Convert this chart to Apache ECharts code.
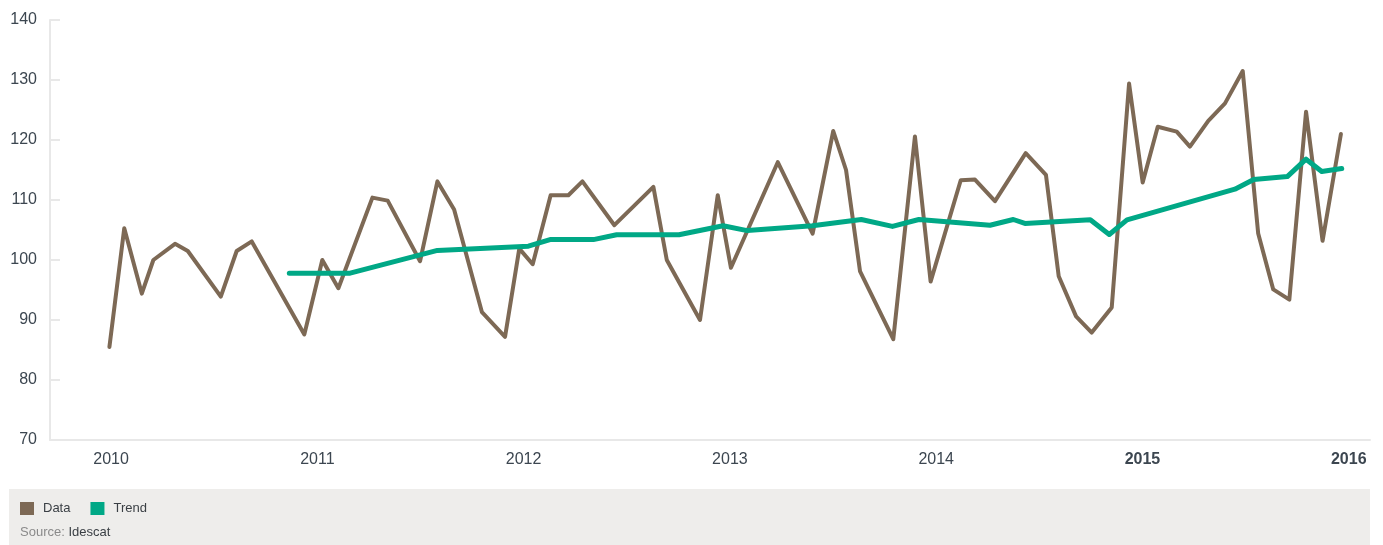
<!DOCTYPE html>
<html>
<head>
<meta charset="utf-8">
<script src="https://cdn.jsdelivr.net/npm/echarts@6/dist/echarts.min.js"></script>
<style>
html, body { margin: 0; padding: 0; background: #fff; }
#chart { width: 1383px; height: 545px; }
</style>
</head>
<body>
<div id="chart"></div>
<script>
// data series: x is the date as a decimal year
const dataYears = [2009.992, 2010.064, 2010.149, 2010.205, 2010.310, 2010.372, 2010.532, 2010.609, 2010.682, 2010.937,
	2011.024, 2011.102, 2011.267, 2011.341, 2011.498, 2011.582, 2011.663, 2011.798, 2011.910, 2011.979,
	2012.044, 2012.131, 2012.217, 2012.285, 2012.440, 2012.629, 2012.694, 2012.855, 2012.941,
	2013.005, 2013.232, 2013.401, 2013.501, 2013.563, 2013.631, 2013.792, 2013.897, 2013.973,
	2014.119, 2014.188, 2014.285, 2014.434, 2014.532, 2014.594, 2014.678, 2014.754, 2014.851, 2014.935,
	2015.001, 2015.074, 2015.166, 2015.230, 2015.319, 2015.400, 2015.486, 2015.561, 2015.634, 2015.712,
	2015.793, 2015.873, 2015.962];
const dataValues = [85.5, 105.3, 94.4, 100.0, 102.7, 101.5, 93.9, 101.5, 103.1, 87.6,
	100.0, 95.3, 110.4, 109.9, 99.8, 113.1, 108.4, 91.3, 87.2, 101.9,
	99.3, 110.8, 110.8, 113.1, 105.8, 112.2, 100.0, 90.0, 110.8,
	98.7, 116.3, 104.4, 121.5, 115.0, 98.1, 86.8, 120.6, 96.4,
	113.3, 113.4, 109.8, 117.8, 114.2, 97.3, 90.6, 87.9, 92.1, 129.4,
	112.9, 122.2, 121.4, 118.9, 123.2, 126.1, 131.5, 104.4, 95.1, 93.4,
	124.7, 103.2, 121.0];

// trend series
const trendYears = [2010.864, 2011.159, 2011.582, 2012.023, 2012.128, 2012.338, 2012.451, 2012.753, 2012.967,
	2013.084, 2013.400, 2013.637, 2013.788, 2013.916, 2014.261, 2014.374, 2014.430, 2014.747, 2014.839,
	2014.925, 2015.448, 2015.539, 2015.702, 2015.793, 2015.869, 2015.966];
const trendValues = [97.8, 97.8, 101.6, 102.3, 103.4, 103.4, 104.2, 104.2, 105.7,
	104.9, 105.7, 106.75, 105.6, 106.75, 105.8, 106.75, 106.1, 106.7, 104.25,
	106.7, 111.8, 113.4, 113.9, 116.8, 114.75, 115.25];

const yearTicks = [2010, 2011, 2012, 2013, 2014, 2015, 2016];
const boldYears = [2015, 2016];
const seriesNames = ['Data', 'Trend'];
const sourceLabel = 'Source: ';
const sourceName = 'Idescat';

const font = '"Liberation Sans", Arial, Helvetica, sans-serif';

function zip(xs, ys) {
	return xs.map(function (x, i) { return [x, ys[i]]; });
}

let myChart = echarts.init(document.getElementById('chart'));
myChart.setOption({
	animation: false,
	textStyle: { fontFamily: font },
	grid: { left: 50, right: 13, top: 20, bottom: 105, containLabel: false },
	graphic: [
		{
			type: 'rect', silent: true, z: -10,
			shape: { x: 9, y: 489, width: 1361, height: 56 },
			style: { fill: '#eeedeb' }
		},
		{
			type: 'text', left: 20, top: 526,
			style: {
				text: '{a|' + sourceLabel + '}{b|' + sourceName + '}',
				rich: {
					a: { fontSize: 13, fill: '#8a8a8a', fontFamily: font },
					b: { fontSize: 13, fill: '#3a3f44', fontFamily: font }
				}
			}
		}
	],
	legend: {
		left: 20, top: 502, padding: 0,
		icon: 'rect', itemWidth: 14, itemHeight: 13, itemGap: 20,
		data: seriesNames,
		textStyle: { fontSize: 13, color: '#3a3f44', fontFamily: font, padding: [0, 0, 0, 4] }
	},
	xAxis: {
		type: 'value',
		min: 2009.704,
		max: 2016.103,
		splitLine: { show: false },
		axisTick: { show: false },
		axisLine: { lineStyle: { color: '#e8e8e8', width: 2 } },
		axisLabel: {
			customValues: yearTicks,
			margin: 12,
			fontSize: 16,
			color: '#3c4650',
			formatter: function (v) {
				return boldYears.indexOf(v) >= 0 ? '{b|' + v + '}' : String(v);
			},
			rich: {
				b: { fontSize: 16, fontWeight: 'bold', color: '#3c4650', fontFamily: font }
			}
		}
	},
	yAxis: {
		type: 'value',
		min: 70, max: 140, interval: 10,
		splitLine: { show: false },
		axisLine: { show: true, lineStyle: { color: '#e8e8e8', width: 2 } },
		axisTick: { show: true, inside: true, length: 10, lineStyle: { color: '#e8e8e8', width: 2 } },
		axisLabel: { margin: 13, fontSize: 16, color: '#3c4650' }
	},
	series: [
		{
			name: seriesNames[0], type: 'line', symbol: 'none',
			data: zip(dataYears, dataValues),
			itemStyle: { color: '#7d6955' },
			lineStyle: { color: '#7d6955', width: 4, join: 'round', cap: 'round' }
		},
		{
			name: seriesNames[1], type: 'line', symbol: 'none',
			data: zip(trendYears, trendValues),
			itemStyle: { color: '#00a886' },
			lineStyle: { color: '#00a886', width: 5, join: 'round', cap: 'round' }
		}
	]
});
</script>
</body>
</html>
